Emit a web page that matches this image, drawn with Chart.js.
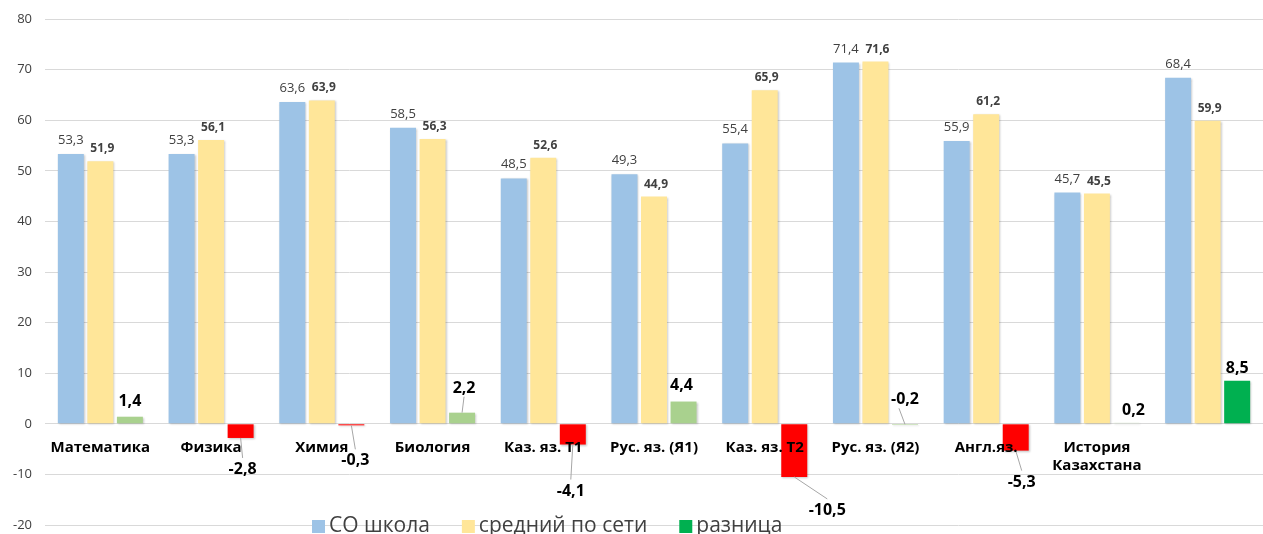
<!DOCTYPE html>
<html>
<head>
<meta charset="utf-8">
<script src="https://cdn.jsdelivr.net/npm/chart.js@4.4.1/dist/chart.umd.min.js"></script>
<style>
  html, body { margin: 0; padding: 0; background: #fff; }
  #wrap { width: 1263px; height: 534px; position: relative; }
</style>
</head>
<body>
<div id="wrap"><canvas id="myChart"></canvas></div>
<script>
// data
const subjects = ["Математика", "Физика", "Химия", "Биология", "Каз. яз. Т1", "Рус. яз. (Я1)",
    "Каз. яз. Т2", "Рус. яз. (Я2)", "Англ.яз.", ["История", "Казахстана"], ""];
const schoolVals = [53.3, 53.3, 63.6, 58.5, 48.5, 49.3, 55.4, 71.4, 55.9, 45.7, 68.4];
const networkVals = [51.9, 56.1, 63.9, 56.3, 52.6, 44.9, 65.9, 71.6, 61.2, 45.5, 59.9];
const diffVals = [1.4, -2.8, -0.3, 2.2, -4.1, 4.4, -10.5, -0.2, -5.3, 0.2, 8.5];
const seriesNames = ["СО школа", "средний по сети", "разница"];
const yTicks = { min: -20, max: 80, step: 10 };

// colours and label nudges (pixels) for the "разница" labels
const blue = "#9DC3E6";
const yellow = "#FFE699";
const green = "#00B050";
const lightGreen = "#A9D18E";
const red = "#FF0000";
const diffColors = [lightGreen, red, red, lightGreen, red, lightGreen, red, lightGreen, red, "#E2EFDA", green];
const diffNudge = [[0, -3], [2, 0], [4, 4], [2, -12], [-2, 15], [-2, -4], [33, 2], [0, -50], [6, 0], [7, 0], [0, 0]];

function fmt(v) {
    return v.toFixed(1).replace(".", ",");
}

const shadowPlugin = {
    id: "shadow",
    beforeDatasetsDraw(chart) {
        let ctx = chart.ctx;
        ctx.save();
        ctx.shadowColor = "rgba(0,0,0,0.22)";
        ctx.shadowBlur = 2;
        ctx.shadowOffsetX = 1;
        ctx.shadowOffsetY = 1;
    },
    afterDatasetsDraw(chart) {
        chart.ctx.restore();
    }
};

const labelPlugin = {
    id: "valueLabels",
    afterDatasetsDraw(chart) {
        let ctx = chart.ctx;
        ctx.save();
        ctx.textAlign = "center";
        ctx.textBaseline = "alphabetic";

        // СО школа
        chart.getDatasetMeta(0).data.forEach((bar, i) => {
            ctx.font = "13px 'Open Sans'";
            ctx.fillStyle = "#404040";
            ctx.fillText(fmt(schoolVals[i]), bar.x, bar.y - 10);
        });
        // средний по сети
        chart.getDatasetMeta(1).data.forEach((bar, i) => {
            ctx.font = "bold 12px 'Open Sans'";
            ctx.fillStyle = "#404040";
            ctx.fillText(fmt(networkVals[i]), bar.x + 2, bar.y - 9);
        });
        // разница
        chart.getDatasetMeta(2).data.forEach((bar, i) => {
            let v = diffVals[i];
            let dx = diffNudge[i][0];
            let dy = diffNudge[i][1];
            let lx = bar.x + dx;
            let ly;
            ctx.font = "bold 16px 'Open Sans'";
            ctx.fillStyle = "#000";
            ctx.strokeStyle = "#a6a6a6";
            ctx.lineWidth = 1;
            if (v >= 0) {
                ly = bar.y - 8 + dy;
                if (dy < -4) {
                    ctx.beginPath();
                    ctx.moveTo(bar.x, bar.y);
                    ctx.lineTo(lx, ly + 4);
                    ctx.stroke();
                }
                ctx.fillText(fmt(v), lx, ly);
            } else {
                if (dy < -20) {
                    ly = bar.base + dy + 30;
                    ctx.beginPath();
                    ctx.moveTo(bar.x, bar.base);
                    ctx.lineTo(lx - 6, ly + 4);
                    ctx.stroke();
                } else {
                    ly = bar.y + 36 + dy;
                    ctx.beginPath();
                    ctx.moveTo(bar.x, bar.y);
                    ctx.lineTo(lx, ly - 16);
                    ctx.stroke();
                }
                ctx.fillText(fmt(v), lx, ly);
            }
        });
        ctx.restore();
    }
};

const legendPlugin = {
    id: "bottomLegend",
    afterDraw(chart) {
        let ctx = chart.ctx;
        let colors = [blue, yellow, green];
        ctx.save();
        ctx.font = "21px 'Open Sans'";
        ctx.textBaseline = "middle";
        ctx.textAlign = "left";
        let x = 312;
        let y = 526;
        for (let i = 0; i < seriesNames.length; i++) {
            ctx.fillStyle = colors[i];
            ctx.fillRect(x, y - 6, 13, 13);
            ctx.fillStyle = "#404040";
            ctx.fillText(seriesNames[i], x + 17, y);
            x += 17 + ctx.measureText(seriesNames[i]).width + 32;
        }
        ctx.restore();
    }
};

let canvas = document.getElementById("myChart").getContext("2d");
let myChart = new Chart(canvas, {
    type: "bar",
    data: {
        labels: subjects,
        datasets: [
            { label: seriesNames[0], data: schoolVals, backgroundColor: blue },
            { label: seriesNames[1], data: networkVals, backgroundColor: yellow },
            { label: seriesNames[2], data: diffVals, backgroundColor: diffColors }
        ]
    },
    options: {
        responsive: true,
        maintainAspectRatio: false,
        animation: false,
        devicePixelRatio: 1,
        categoryPercentage: 0.8,
        barPercentage: 0.88,
        layout: { padding: { top: 19, bottom: 9, left: 0, right: 0 } },
        plugins: {
            legend: { display: false },
            tooltip: { enabled: false }
        },
        scales: {
            x: {
                position: { y: 0 },
                grid: { display: false, drawTicks: false },
                border: { display: false },
                ticks: {
                    z: 1,
                    color: "#000",
                    font: { family: "'Open Sans'", size: 15, weight: "bold" },
                    padding: 15,
                    autoSkip: false,
                    maxRotation: 0
                },
                afterFit: function(scale) { scale.height = 0; }
            },
            y: {
                min: yTicks.min,
                max: yTicks.max,
                grid: { color: "#d9d9d9", drawTicks: false },
                border: { display: false },
                ticks: {
                    stepSize: yTicks.step,
                    color: "#404040",
                    font: { family: "'Open Sans'", size: 13 },
                    padding: 13
                },
                afterFit: function(scale) {
                    scale.width = 45;
                    scale.paddingTop = 0;
                    scale.paddingBottom = 0;
                }
            }
        }
    },
    plugins: [shadowPlugin, labelPlugin, legendPlugin]
});
</script>
</body>
</html>
